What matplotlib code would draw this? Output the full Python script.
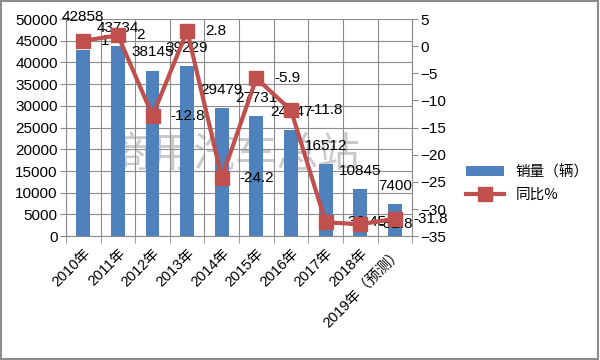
import matplotlib
matplotlib.use('Agg')
import matplotlib.pyplot as plt
import numpy as np

plt.rcParams['font.family'] = ['Liberation Sans', 'Noto Sans CJK SC', 'DejaVu Sans']

years = ['2010年', '2011年', '2012年', '2013年', '2014年', '2015年',
         '2016年', '2017年', '2018年', '2019年（预测）']
sales = [42858, 43734, 38145, 39229, 29479, 27731, 24447, 16512, 10845, 7400]
yoy = [1, 2, -12.8, 2.8, -24.2, -5.9, -11.8, -32.45, -32.8, -31.8]
yoy_labels = ['1', '2', '-12.8', '2.8', '-24.2', '-5.9', '-11.8', '-32.45', '-32.8', '-31.8']

blue = '#4F81BD'
red = '#C0504D'
grid_c = '#8C8C8C'

fig = plt.figure(figsize=(6, 3.6), dpi=100)
ax1 = fig.add_axes([0.11, 0.344, 0.577, 0.603])
x = np.arange(len(years))

ax1.bar(x, sales, width=0.4, color=blue, zorder=3, label='销量（辆）')
ax1.set_ylim(0, 50000)
ax1.set_yticks(np.arange(0, 50001, 5000))
ax1.set_xlim(-0.5, len(years) - 0.5)
ax1.set_xticks(x)
ax1.set_xticklabels(years, rotation=45, ha='right', rotation_mode='anchor',
                    fontsize=10.5, family=['Liberation Sans', 'Noto Sans CJK SC'])
ax1.set_xticks(np.arange(-0.5, len(years), 1), minor=True)
ax1.tick_params(axis='x', which='major', length=0, pad=7)
ax1.tick_params(axis='x', which='minor', length=5, color=grid_c)
ax1.tick_params(axis='y', length=4, color=grid_c, labelsize=11, pad=2)
ax1.grid(axis='y', color=grid_c, linewidth=0.8, zorder=0)
ax1.grid(axis='x', which='minor', color=grid_c, linewidth=0.8, zorder=0)
for s in ['top', 'right']:
    ax1.spines[s].set_visible(False)
for s in ['left', 'bottom']:
    ax1.spines[s].set_color(grid_c)

ax1.text(0.49, 0.37, '商用汽车总站', transform=ax1.transAxes, fontsize=30,
         color='#A0A0A0', alpha=0.55, ha='center', va='center',
         family=['Noto Sans CJK SC'], fontweight='light', zorder=1)

ax2 = ax1.twinx()
ax2.plot(x, yoy, color=red, linewidth=3, marker='s', markersize=10,
         label='同比%', zorder=4)
ax2.set_ylim(-35, 5)
ax2.set_yticks(np.arange(-35, 6, 5))
ax2.tick_params(axis='y', length=4, color=grid_c, labelsize=11, pad=2)
for s in ['top', 'left', 'bottom']:
    ax2.spines[s].set_visible(False)
ax2.spines['right'].set_color(grid_c)

for i, (xi, v) in enumerate(zip(x, sales)):
    dy = 24 if i == 0 else 13
    ax2.annotate(str(v), (xi, v), xycoords=ax1.transData, xytext=(0, dy),
                 textcoords='offset points', ha='center', va='center', fontsize=11)
for xi, v, lab in zip(x, yoy, yoy_labels):
    ax2.annotate(lab, (xi, v), xycoords='data', xytext=(13, 0),
                 textcoords='offset points', ha='left', va='center', fontsize=11)

h1, l1 = ax1.get_legend_handles_labels()
h2, l2 = ax2.get_legend_handles_labels()
fig.legend(h1 + h2, l1 + l2, loc='center left', bbox_to_anchor=(0.755, 0.49),
           frameon=False, handlelength=2.6, handleheight=0.7,
           labelspacing=0.6, prop={'family': ['Noto Sans CJK SC'], 'size': 10.5})

fig.patches.append(plt.Rectangle((0.002, 0.003), 0.995, 0.993, transform=fig.transFigure,
                                 fill=False, edgecolor='#8C8C8C', linewidth=1.5))

fig.savefig('out.png', dpi=100)
